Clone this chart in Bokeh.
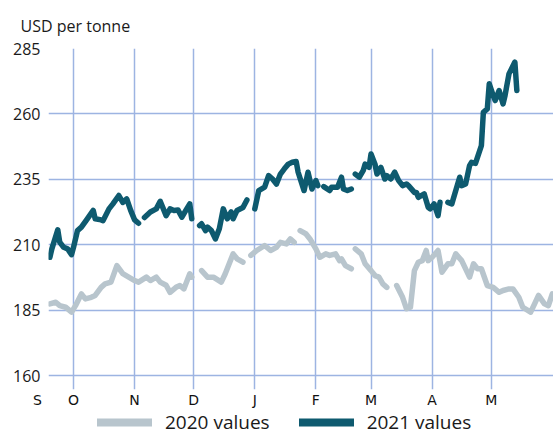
from bokeh.plotting import figure
from bokeh.layouts import column
from bokeh.models import Range1d, FixedTicker, Legend, LegendItem
from bokeh.embed import file_html
from bokeh.resources import INLINE

nan = float("nan")

# Month starts, in days since 1 September (first tick = start of the axis)
axis_start = 17.3
axis_end = 273.6
month_ticks = [30, 61, 91, 122, 153, 181, 212, 242]
month_labels = ["O", "N", "D", "J", "F", "M", "A", "M"]
start_label = "S"
y_ticks = [160, 185, 210, 235, 260, 285]
title_text = "USD per tonne"
series_names = ["2020 values", "2021 values"]

days_2021 = [18, 19, 22, 23, 25, 27, 29, 30, 32, 34, 37, 40, 41, 44, 45, 48, 50, 53, 55, 57, 59, 61, 63,
             64,
             66, 69, 72, 74, 77, 79, 81, 83, 85, 87, 89, 90,
             92,
             94, 95, 97, 98, 100, 102, 104, 106, 108, 110, 111, 113, 116, 118,
             120,
             122, 124, 127, 129, 131, 133, 135, 137, 139, 141, 143, 144, 147, 149, 151, 153, 154,
             155,
             157, 160, 161, 164, 166, 167, 169, 171,
             172,
             173, 175, 177, 178, 180, 181, 183, 184, 186, 188, 189, 191, 193, 195, 197, 199, 200, 203, 204,
             205, 208, 210, 211, 213, 215, 216,
             218,
             220, 222, 224, 226, 227, 229, 231, 232, 234, 237, 238, 240, 241, 243, 244, 246, 248, 249,
             251, 254, 255]
vals_2021 = [205.2, 208.4, 215.7, 211.0, 209.0, 208.4, 206.2, 209.0, 215.4, 216.7, 219.9, 223.1, 219.9,
             219.5, 219.2, 223.7, 225.6, 228.8, 226.2, 227.5, 223.1, 219.5, 218.2,
             nan,
             220.4, 222.5, 223.7, 226.6, 221.1, 223.7, 223.1, 223.3, 220.5, 223.1, 225.6, 219.9,
             nan,
             217.3, 218.0, 215.4, 216.7, 215.4, 212.2, 216.1, 223.7, 219.9, 222.5, 219.9, 223.1, 224.2,
             227.1,
             nan,
             223.7, 230.7, 232.0, 236.4, 235.1, 233.2, 237.0, 239.0, 240.8, 241.5, 241.8, 237.7, 230.7,
             237.7, 231.3, 234.5, 232.6,
             nan,
             232.2, 230.7, 232.0, 232.0, 235.8, 231.3, 230.7, 231.3,
             nan,
             237.0, 235.8, 238.3, 240.8, 239.6, 244.7, 240.8, 237.0, 239.6, 235.1, 236.4, 235.1, 237.7,
             234.5, 232.6, 233.2, 232.6, 230.0, 230.0,
             228.1, 229.4, 224.3, 223.7, 225.6, 221.1, 226.2,
             nan,
             226.2, 225.6, 230.7, 235.8, 232.6, 233.2, 240.2, 241.5, 241.1, 247.9, 260.6, 261.9, 271.5,
             267.0, 265.1, 268.9, 263.8, 267.0, 275.3, 279.8, 268.9]

days_2020 = [18, 21, 23, 26, 29, 31, 34, 36, 39, 41, 44, 46, 49, 52, 55, 58, 61, 63, 67, 69, 72, 74, 77,
             79, 82, 84, 86, 89, 90,
             92,
             95, 98, 101, 105, 107, 110, 111, 113, 116,
             118,
             120, 123, 127, 130, 133, 135, 138, 140, 142,
             143,
             145, 148, 150, 153, 155, 158, 160, 163, 165, 166, 168, 171,
             172,
             173, 176, 178, 181, 183, 185, 187, 189,
             191,
             194, 197, 199, 201, 203, 205, 207, 209, 210, 212, 215, 217, 220, 222, 224, 227, 231, 233,
             235, 237, 240, 243, 246, 248, 251, 253, 256, 258, 262, 264, 266, 269, 271, 273]
vals_2020 = [187.4, 188.0, 186.7, 186.1, 184.2, 186.7, 191.2, 189.3, 189.9, 190.6, 193.7, 195.0, 195.7,
             202.0, 198.9, 197.6, 196.3, 195.7, 197.6, 196.3, 197.6, 195.7, 194.5,
             191.8, 193.7, 194.4, 193.1, 198.9, 197.6,
             nan,
             200.1, 197.6, 197.6, 195.7, 198.9, 204.6, 206.5, 204.6, 203.3,
             nan,
             205.9, 207.8, 209.7, 207.8, 209.0, 210.9, 210.3, 212.2, 210.9,
             nan,
             215.4, 214.1, 212.2, 208.4, 205.2, 206.5, 205.9, 206.5, 203.9, 204.6, 202.0, 200.8,
             nan,
             208.4, 206.5, 202.7, 200.1, 198.2, 197.6, 195.0, 193.7,
             nan,
             194.4, 189.9, 185.5, 186.1, 200.1, 203.3, 203.9, 207.8, 203.9, 205.2, 207.8, 199.5, 202.7,
             202.7, 206.5, 203.9, 197.6, 202.7,
             200.8, 200.8, 194.4, 193.7, 191.8, 192.5, 193.1, 193.1, 189.9, 186.1, 184.2, 187.4, 190.6,
             187.4, 186.7, 191.2]

FONT = "Open Sans"
GRID = "#9db4e2"
LIGHT = "#b8c5cd"
DARK = "#0e5a6f"
TEXT = "#1a1a1a"

# the frame reaches a little below 160 so that the month gridlines run past the bottom line
p = figure(frame_width=505, frame_height=341,
           x_range=Range1d(axis_start, axis_end), y_range=Range1d(154.65, 285),
           output_backend="svg", toolbar_location=None,
           min_border_left=48, min_border_right=0, min_border_top=48, min_border_bottom=0,
           title=title_text)
p.outline_line_color = None
p.background_fill_color = "white"
p.border_fill_color = "white"

p.title.text_font = FONT
p.title.text_font_size = "16px"
p.title.text_font_style = "normal"
p.title.text_color = TEXT
p.title.offset = -28
p.title.standoff = 23

# lines
p.line(days_2020, vals_2020, line_color=LIGHT, line_width=5.5, line_join="round", line_cap="round")
p.line(days_2021, vals_2021, line_color=DARK, line_width=5.5, line_join="round", line_cap="round")

# grids
p.xgrid.ticker = FixedTicker(ticks=month_ticks)
p.ygrid.ticker = FixedTicker(ticks=y_ticks)
for g in (p.xgrid, p.ygrid):
    g.grid_line_color = GRID
    g.grid_line_width = 1.5

# y axis
ya = p.yaxis[0]
ya.axis_label = None
ya.ticker = FixedTicker(ticks=y_ticks)
ya.axis_line_color = None
ya.major_tick_line_color = None
ya.minor_tick_line_color = None
ya.major_tick_out = 0
ya.major_tick_in = 0
ya.major_label_standoff = 8
ya.major_label_text_font = FONT
ya.major_label_text_font_size = "16px"
ya.major_label_text_color = TEXT

# x axis: month initials, "S" at the start of the axis
xa = p.xaxis[0]
xa.axis_label = None
xa.ticker = FixedTicker(ticks=[axis_start] + month_ticks)
overrides = {t: l for t, l in zip(month_ticks, month_labels)}
overrides[axis_start] = start_label + "\u00a0" * 5
xa.major_label_overrides = overrides
xa.axis_line_color = None
xa.minor_tick_line_color = None
xa.major_tick_line_color = None
xa.major_tick_out = 0
xa.major_tick_in = 0
xa.minor_tick_out = 0
xa.major_label_standoff = 2
xa.major_label_text_font = "DejaVu Sans"
xa.major_label_text_font_size = "14px"
xa.major_label_text_color = "#111111"

# separate strip holding the legend (frame aligned with the chart's frame)
pl = figure(frame_width=505, frame_height=26, x_range=Range1d(0, 1), y_range=Range1d(0, 1),
            output_backend="svg", toolbar_location=None,
            x_axis_location=None, y_axis_location=None,
            min_border_left=48, min_border_right=0, min_border_top=0, min_border_bottom=0)
pl.grid.visible = False
pl.outline_line_color = None
pl.background_fill_color = "white"
pl.border_fill_color = "white"
# legend keys: same series, thicker stroke; they lie outside this strip's ranges so only the key shows
r20 = pl.line(days_2020, vals_2020, line_color=LIGHT, line_width=8, line_cap="round")
r21 = pl.line(days_2021, vals_2021, line_color=DARK, line_width=8, line_cap="round")
legend = Legend(items=[LegendItem(label=series_names[0], renderers=[r20]),
                       LegendItem(label=series_names[1], renderers=[r21])],
                orientation="horizontal", location=(49, 1),
                glyph_width=55, glyph_height=20, label_standoff=13, spacing=29,
                label_text_font=FONT, label_text_font_size="19px", label_text_color=TEXT,
                border_line_color=None, background_fill_alpha=0, padding=0, margin=0)
pl.add_layout(legend, "center")

layout = column(p, pl, spacing=0)
open("out.html", "w").write(file_html(layout, INLINE))
